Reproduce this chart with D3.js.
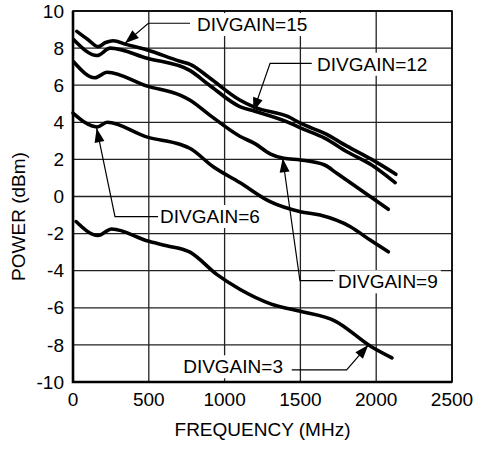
<!DOCTYPE html>
<html>
<head>
<meta charset="utf-8">
<script src="https://cdn.jsdelivr.net/npm/d3@7"></script>
<style>
  body { margin: 0; background: #fff; }
  text { font-family: "Liberation Sans", Arial, sans-serif; fill: #000; }
</style>
</head>
<body>
<div id="chart"></div>
<script>
// tick labels
var xTicks = [0, 500, 1000, 1500, 2000, 2500];
var yTicks = [-10, -8, -6, -4, -2, 0, 2, 4, 6, 8, 10];

// curves: [frequency MHz, power dBm]
var divgain15 = [[25, 8.9], [100, 8.45], [165, 8.08], [215, 8.3], [265, 8.4], [350, 8.2], [490, 7.9],
  [700, 7.3], [780, 7.1], [900, 6.4], [1100, 5.2], [1200, 4.8], [1420, 4.3], [1500, 3.95],
  [1660, 3.4], [1810, 2.7], [1970, 2.0], [2130, 1.2]];
var divgain12 = [[5, 8.45], [160, 7.6], [245, 8.0], [490, 7.45], [770, 6.8], [900, 6.0],
  [1100, 4.85], [1200, 4.6], [1420, 4.0], [1500, 3.7], [1660, 3.15], [1810, 2.4], [1970, 1.7], [2125, 0.75]];
var divgain9 = [[5, 7.25], [145, 6.4], [225, 6.7], [490, 5.95], [710, 5.45], [770, 5.2], [900, 4.4],
  [1100, 3.25], [1200, 2.85], [1300, 2.3], [1390, 2.06], [1500, 1.97], [1660, 1.7], [1740, 1.25],
  [1960, 0.0], [2080, -0.69]];
var divgain6 = [[0, 4.5], [160, 3.75], [225, 4.0], [490, 3.2], [710, 2.8], [770, 2.6], [925, 1.6],
  [1100, 0.75], [1300, -0.28], [1500, -0.82], [1630, -1.0], [1830, -1.63], [1960, -2.35], [2080, -2.98]];
var divgain3 = [[20, -1.35], [165, -2.1], [255, -1.75], [493, -2.4], [618, -2.65], [772, -3.0],
  [948, -4.2], [1100, -5.0], [1308, -5.8], [1506, -6.2], [1726, -6.7], [1968, -8.1], [2104, -8.7]];

var curves = [divgain15, divgain12, divgain9, divgain6, divgain3];

// callout labels: arrow tip, elbow, end of leader, text position (all in data units)
var labels = ["DIVGAIN=15", "DIVGAIN=12", "DIVGAIN=9", "DIVGAIN=6", "DIVGAIN=3"];
var tips = [[343, 8.26], [1189, 4.57], [1383, 2.06], [156, 3.68], [1948, -8.0]];
var elbows = [[497, 9.34], [1300, 7.18], [1497, -4.54], [277, -1.09], [1805, -9.35]];
var ends = [[772, 9.34], [1575, 7.18], [1715, -4.54], [561, -1.09], [1443, -9.35]];
var textPos = [[818, 8.92], [1610, 6.78], [1748, -4.95], [574, -1.43], [1385, -9.53]];
var textAnchor = ["start", "start", "start", "start", "end"];

var svgWidth = 478;
var svgHeight = 449;

var margin = {
  top: 11,
  bottom: 67,
  right: 26,
  left: 73
};

var width = svgWidth - margin.left - margin.right;
var height = svgHeight - margin.top - margin.bottom;

var svg = d3.select("#chart")
  .append("svg")
  .attr("width", svgWidth)
  .attr("height", svgHeight);

var chartGroup = svg.append("g")
  .attr("transform", `translate(${margin.left}, ${margin.top})`);

var xScale = d3.scaleLinear().domain([0, 2500]).range([0, width]);
var yScale = d3.scaleLinear().domain([-10, 10]).range([height, 0]);

// grid
chartGroup.append("g")
  .selectAll("line")
  .data(xTicks)
  .enter()
  .append("line")
  .attr("x1", d => xScale(d))
  .attr("x2", d => xScale(d))
  .attr("y1", 0)
  .attr("y2", height)
  .attr("stroke", "#222")
  .attr("stroke-width", 1.3);

chartGroup.append("g")
  .selectAll("line")
  .data(yTicks)
  .enter()
  .append("line")
  .attr("x1", 0)
  .attr("x2", width)
  .attr("y1", d => yScale(d))
  .attr("y2", d => yScale(d))
  .attr("stroke", "#222")
  .attr("stroke-width", 1.3);

// frame
chartGroup.append("rect")
  .attr("x", 0)
  .attr("y", 0)
  .attr("width", width)
  .attr("height", height)
  .attr("fill", "none")
  .attr("stroke", "#000")
  .attr("stroke-width", 1.6);

chartGroup.append("path")
  .attr("d", `M0,0V${height}H${width}`)
  .attr("fill", "none")
  .attr("stroke", "#000")
  .attr("stroke-width", 2.6);

// curves
var line = d3.line()
  .x(d => xScale(d[0]))
  .y(d => yScale(d[1]))
  .curve(d3.curveMonotoneX);

chartGroup.selectAll(".curve")
  .data(curves)
  .enter()
  .append("path")
  .attr("class", "curve")
  .attr("d", line)
  .attr("fill", "none")
  .attr("stroke", "#000")
  .attr("stroke-width", 3.6)
  .attr("stroke-linecap", "round")
  .attr("stroke-linejoin", "round");

// callouts
labels.forEach(function(label, i) {
  var tx = xScale(textPos[i][0]);
  var ty = yScale(textPos[i][1]);

  var txt = chartGroup.append("text")
    .attr("x", tx)
    .attr("y", ty)
    .attr("text-anchor", textAnchor[i])
    .style("font-size", "19px")
    .text(label);

  var box = txt.node().getBBox();
  chartGroup.insert("rect", "text")
    .attr("x", box.x - 3)
    .attr("y", box.y - 1)
    .attr("width", box.width + 6)
    .attr("height", box.height + 2)
    .attr("fill", "#fff");

  var tip = [xScale(tips[i][0]), yScale(tips[i][1])];
  var elbow = [xScale(elbows[i][0]), yScale(elbows[i][1])];
  var end = [xScale(ends[i][0]), yScale(ends[i][1])];

  chartGroup.append("path")
    .attr("d", d3.line()([end, elbow, tip]))
    .attr("fill", "none")
    .attr("stroke", "#000")
    .attr("stroke-width", 1.2);

  // arrow head
  var dx = elbow[0] - tip[0];
  var dy = elbow[1] - tip[1];
  var len = Math.sqrt(dx * dx + dy * dy);
  var ux = dx / len, uy = dy / len;
  var hl = 14, hw = 5;
  var bx = tip[0] + ux * hl, by = tip[1] + uy * hl;
  chartGroup.append("path")
    .attr("d", d3.line()([tip, [bx - uy * hw, by + ux * hw], [bx + uy * hw, by - ux * hw]]) + "Z")
    .attr("fill", "#000");
});

// tick labels
chartGroup.append("g")
  .selectAll("text")
  .data(xTicks)
  .enter()
  .append("text")
  .attr("x", d => xScale(d))
  .attr("y", height + 24)
  .attr("text-anchor", "middle")
  .style("font-size", "19px")
  .text(d => d);

chartGroup.append("g")
  .selectAll("text")
  .data(yTicks)
  .enter()
  .append("text")
  .attr("x", -9)
  .attr("y", d => yScale(d))
  .attr("dy", "0.35em")
  .attr("text-anchor", "end")
  .style("font-size", "19px")
  .text(d => d);

// axis titles
chartGroup.append("text")
  .attr("x", width / 2)
  .attr("y", height + 54)
  .attr("text-anchor", "middle")
  .style("font-size", "19px")
  .text("FREQUENCY (MHz)");

chartGroup.append("text")
  .attr("transform", "rotate(-90)")
  .attr("x", 0 - (height / 2) - 20)
  .attr("y", 0 - margin.left + 25)
  .attr("text-anchor", "middle")
  .style("font-size", "19px")
  .text("POWER (dBm)");
</script>
</body>
</html>
